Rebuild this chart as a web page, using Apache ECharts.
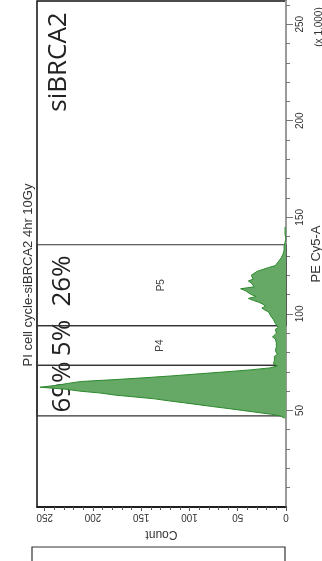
<!DOCTYPE html>
<html>
<head>
<meta charset="utf-8">
<script src="https://cdn.jsdelivr.net/npm/echarts@6/dist/echarts.min.js"></script>
<style>
  html, body { margin: 0; padding: 0; background: #fff; }
  #chart { width: 322px; height: 561px; }
</style>
</head>
<body>
<div id="chart"></div>
<script>
// PE Cy5-A (x 1,000) bins, one per unit, starting at peStart
const peStart = 46;
const counts = [
  2, 5, 15, 30, 45, 60, 76, 91, 106, 122,
  136, 157, 178, 192, 214, 228, 255, 238, 226, 212,
  176, 144, 115, 89, 62, 37, 17, 9, 13, 15,
  12, 10, 12, 9, 8, 11, 13, 10, 9, 10,
  12, 11, 14, 12, 10, 9, 11, 8, 9, 11,
  10, 13, 14, 16, 15, 18, 22, 25, 21, 24,
  28, 34, 39, 31, 36, 37, 42, 47, 33, 35,
  36, 39, 34, 34, 36, 37, 30, 24, 18, 11,
  9, 8, 7, 5, 4, 3, 3, 2, 2, 2,
  1, 1, 1, 0, 1, 1, 0, 1, 1, 1
];
const peMax = 262;
const countMax = 258;
const peLabels = [50, 100, 150, 200, 250];
const countLabels = [0, 50, 100, 150, 200, 250];

// gates
const gateNames = ["P3", "P4", "P5"];
const gateLow = [47.2, 73.3, 93.9];
const gateHigh = [73.3, 93.9, 135.8];
const gateCountLow = [3, 3, 0];
const gatePct = ["69%", "5%", "26%"];

const peBins = [];
const histData = [];
for (let i = 0; i <= peMax; i++) {
  peBins.push(String(i));
  const k = i - peStart;
  histData.push(k >= 0 && k < counts.length ? counts[k] : null);
}
const peMinor = [];
for (let v = 10; v <= 260; v += 10) peMinor.push(v);
const countMinor = [];
for (let v = 10; v <= 250; v += 10) countMinor.push(v);

const chart = echarts.init(document.getElementById("chart"));
const font = "Liberation Sans";

const rotText = (text, x, y, size, family, color) => ({
  type: "text", x, y, rotation: Math.PI / 2,
  style: { text, fontSize: size, fontFamily: family, fill: color, align: "center", verticalAlign: "middle" }
});

chart.setOption({
  animation: false,
  grid: {
    left: 37, right: 36, top: 1, bottom: 54, outerBoundsMode: "none",
    show: true, borderColor: "#111", borderWidth: 1.5
  },
  xAxis: [
    {
      type: "value", inverse: true, min: 0, max: countMax, position: "bottom",
      axisLine: { show: true, lineStyle: { color: "#111", width: 1.5 } },
      axisTick: { show: true, customValues: countMinor, length: 3, lineStyle: { color: "#555" } },
      axisLabel: { show: false }, splitLine: { show: false }
    },
    {
      type: "value", inverse: true, min: 0, max: countMax, position: "bottom",
      axisLine: { show: false },
      axisTick: { show: true, customValues: countLabels, length: 4, lineStyle: { color: "#555" } },
      axisLabel: { customValues: countLabels, rotate: 180, fontSize: 10, fontFamily: font, color: "#333", margin: 5 },
      splitLine: { show: false },
      name: "Count", nameLocation: "middle", nameGap: 21, nameRotate: 180,
      nameTextStyle: { fontSize: 12, fontFamily: font, color: "#333" }
    }
  ],
  yAxis: [
    { type: "category", data: peBins, boundaryGap: false, show: false },
    {
      type: "value", min: 0, max: peMax, position: "right",
      axisLine: { show: true, lineStyle: { color: "#9a9a9a", width: 2 } },
      axisTick: { show: true, customValues: peMinor, length: 4, lineStyle: { color: "#777" } },
      axisLabel: { show: false }, splitLine: { show: false }
    },
    {
      type: "value", min: 0, max: peMax, position: "right",
      axisLine: { show: false },
      axisTick: { show: true, customValues: peLabels, length: 7, lineStyle: { color: "#777" } },
      axisLabel: { customValues: peLabels, rotate: 90, fontSize: 10, fontFamily: font, color: "#333", margin: 9 },
      splitLine: { show: false }
    }
  ],
  series: [
    {
      type: "line", xAxisIndex: 0, yAxisIndex: 0, data: histData, symbol: "none",
      lineStyle: { color: "#2b882b", width: 1 },
      areaStyle: { color: "#66a866", opacity: 1 }
    },
    {
      type: "line", xAxisIndex: 0, yAxisIndex: 1, data: [],
      markArea: {
        silent: true,
        itemStyle: { color: "rgba(0,0,0,0)", borderColor: "#333", borderWidth: 1.2 },
        label: { position: "inside", rotate: 90, fontSize: 10, fontFamily: font, color: "#444" },
        data: gateNames.map((n, i) => [
          { name: n, xAxis: gateCountLow[i], yAxis: gateLow[i] },
          { xAxis: countMax, yAxis: gateHigh[i] }
        ])
      }
    }
  ],
  graphic: [
    rotText("siBRCA2", 59, 62, 26, "Open Sans", "#222"),
    rotText(gatePct[0], 63, 387, 26, "Open Sans", "#222"),
    rotText(gatePct[1], 63, 338, 26, "Open Sans", "#222"),
    rotText(gatePct[2], 63, 281, 26, "Open Sans", "#222"),
    rotText("PI cell cycle-siBRCA2 4hr 10Gy", 28, 275, 13, font, "#333"),
    rotText("PE Cy5-A", 316, 254, 13, font, "#333"),
    rotText("(x 1,000)", 319, 27, 10, font, "#333"),
    { type: "rect", shape: { x: 32, y: 547, width: 253, height: 30 }, style: { fill: "none", stroke: "#333", lineWidth: 1.2 } }
  ]
});
</script>
</body>
</html>
